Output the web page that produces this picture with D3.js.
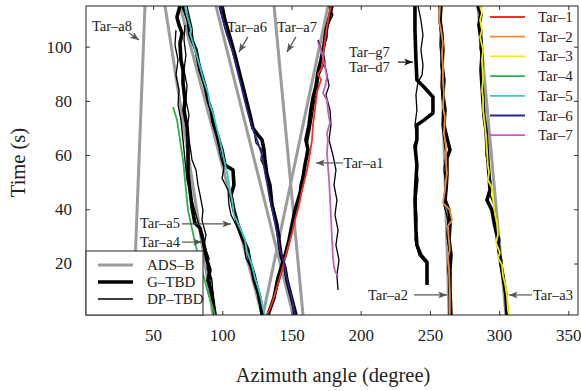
<!DOCTYPE html>
<html>
<head>
<meta charset="utf-8">
<script src="https://cdn.jsdelivr.net/npm/d3@7"></script>
<style>
body { margin: 0; background: #fff; }
svg { font-family: "Liberation Serif", "DejaVu Serif", serif; }
</style>
</head>
<body>
<script>
// azimuth (degree), time (s)
const xTicks = [50, 100, 150, 200, 250, 300, 350];
const yTicks = [20, 40, 60, 80, 100];

// ADS-B reference tracks (straight)
const adsA8 = [[35.5, 1], [44.1, 115]];
const adsA4 = [[58.6, 115], [93.3, 1]];
const adsA5 = [[69.4, 115], [128.7, 1]];
const adsA6 = [[95.4, 115], [151.1, 1]];
const adsA7 = [[137.4, 115], [158.3, 1]];
const adsA1 = [[129.4, 1], [176.4, 115]];
const adsA2 = [[257.3, 115], [263.8, 1]];
const adsA3 = [[284.7, 115], [304.9, 1]];

// G-TBD tracks
const gtbdA4 = [[69.4,115.0],[67.2,110.9],[68.7,108.0],[70.9,105.0],[69.4,101.3],[70.1,95.1],[71.6,91.4],[71.6,86.6],[73.0,80.3],[72.3,76.6],[74.5,70.4],[75.2,65.6],[75.2,59.3],[75.2,53.4],[76.6,47.1],[78.1,40.8],[80.2,34.9],[83.9,33.1],[86.0,28.7],[88.9,21.3],[91.1,17.6],[89.6,13.9],[92.5,9.1],[94.7,1.0]];
const gtbdA5 = [[71.6,115.0],[75.2,109.8],[76.6,104.3],[81.0,98.8],[83.1,93.2],[87.5,85.6],[89.6,80.3],[92.5,75.9],[94.0,71.1],[97.6,65.6],[99.8,61.9],[101.9,56.3],[107.7,54.5],[108.4,49.0],[106.3,45.3],[108.4,39.7],[111.3,34.2],[114.9,29.4],[118.5,25.0],[120.0,20.5],[122.9,15.8],[125.0,11.3],[127.2,7.3],[128.7,1.0]];
const gtbdA6 = [[99.8,115.0],[101.9,109.8],[105.5,103.6],[109.1,96.9],[112.8,89.5],[116.4,82.2],[120.0,74.8],[122.1,70.0],[125.8,67.4],[128.7,65.6],[130.1,61.9],[130.8,58.2],[132.3,52.6],[134.4,49.0],[135.9,41.6],[139.5,34.2],[140.9,28.7],[142.4,23.1],[145.3,18.3],[146.7,13.9],[148.9,9.5],[151.0,5.4],[153.2,1.0]];
const gtbdA1 = [[179.2,115.0],[177.8,111.7],[174.9,106.1],[173.4,100.6],[171.3,95.1],[169.1,90.6],[167.7,85.6],[165.5,81.1],[164.0,76.6],[162.6,71.1],[160.4,65.6],[161.9,61.9],[159.7,56.3],[158.3,51.5],[156.8,47.1],[154.7,43.4],[152.5,39.7],[150.3,34.2],[148.2,28.7],[146.0,24.2],[143.1,19.4],[140.2,14.6],[137.3,7.3],[133.0,1.0]];
const gtbdA2 = [[258.0,115.0],[257.3,109.8],[258.7,104.3],[259.4,98.8],[258.7,93.2],[260.1,87.7],[259.4,82.2],[260.9,76.6],[260.1,71.1],[262.3,66.3],[264.5,61.9],[262.3,58.9],[262.3,52.6],[261.6,47.1],[260.9,43.4],[263.8,39.7],[264.5,34.2],[263.8,28.7],[265.2,23.1],[264.5,17.6],[264.5,10.2],[265.2,1.0]];
const gtbdA3 = [[284.7,115.0],[286.9,111.7],[285.4,108.0],[286.9,102.5],[287.6,96.9],[286.9,91.4],[287.6,85.6],[288.3,80.3],[289.0,74.8],[290.5,69.2],[291.2,63.7],[291.9,58.2],[292.7,52.6],[293.4,47.1],[291.2,43.4],[294.8,39.7],[296.3,35.3],[298.4,30.5],[299.9,25.0],[300.6,22.0],[302.0,17.6],[303.5,13.2],[304.9,8.4],[305.7,1.0]];
const gtbdG7 = [[239.2,115.0],[239.2,106.1],[239.9,95.1],[240.6,87.7],[245.7,85.1],[252.2,81.4],[252.2,75.5],[245.7,72.9],[240.6,71.1],[240.6,65.6],[239.2,63.3],[240.6,56.3],[239.9,50.8],[239.2,43.4],[239.9,32.3],[240.6,26.8],[243.5,23.1],[247.9,20.5],[247.9,12.1]];

// DP-TBD tracks
const dpA4a = [[66.5,106.1],[65.8,100.6],[68.0,95.1],[66.5,89.5],[68.7,84.0],[68.0,78.5],[70.1,72.9],[71.6,65.6],[73.0,58.2],[74.5,50.8],[78.1,43.4],[81.0,37.9],[83.1,34.2],[86.0,30.5],[87.5,25.0],[89.6,19.4],[92.5,13.9],[93.3,8.4],[94.7,1.0]];
const dpA4b = [[73.0,108.0],[72.3,102.5],[73.7,96.9],[72.3,91.4],[74.5,85.6],[73.7,80.3],[75.9,74.8],[74.5,69.2],[76.6,63.7],[78.1,58.2],[81.0,54.5],[82.4,49.0],[83.9,45.3],[86.0,39.7],[85.3,36.0],[88.2,30.5],[86.8,26.8],[90.4,22.0],[88.9,18.3],[91.8,13.9],[91.1,9.5],[94.0,4.7],[95.4,1.0]];
const dpA5 = [[74.5,115.0],[75.9,111.7],[78.1,106.9],[78.8,102.5],[81.7,96.9],[83.1,91.4],[86.8,85.6],[88.9,81.1],[91.1,76.6],[92.5,72.2],[95.4,67.4],[97.6,62.6],[99.0,58.9],[101.2,55.2],[99.8,51.5],[104.1,47.1],[104.8,41.6],[106.3,37.9],[109.9,34.2],[112.8,30.5],[115.7,26.8],[117.1,22.0],[120.7,18.3],[122.1,13.9],[125.0,9.5],[126.5,5.4],[128.7,1.0]];
const dpA6 = [[97.6,115.0],[99.8,110.6],[102.6,105.4],[107.0,98.8],[109.9,93.2],[113.5,86.9],[117.1,80.3],[119.3,74.8],[122.9,69.2],[124.3,64.5],[128.7,61.9],[127.9,58.2],[131.5,54.5],[133.0,49.0],[134.4,45.3],[137.3,39.7],[138.8,34.2],[141.7,30.5],[140.9,25.7],[143.8,22.0],[145.3,17.6],[147.4,13.2],[149.6,8.4],[151.8,1.0]];
const dpA1 = [[177.1,115.0],[179.9,111.7],[176.3,108.0],[175.6,103.2],[172.7,98.8],[174.2,94.3],[169.8,89.5],[168.4,84.0],[166.2,78.5],[164.8,73.7],[163.3,69.2],[161.2,63.7],[160.4,58.9],[159.0,54.5],[156.1,49.0],[155.4,44.2],[153.2,39.0],[151.8,35.3],[148.9,29.4],[146.7,25.0],[144.6,20.5],[141.7,14.6],[138.8,9.5],[135.2,4.7],[132.3,1.0]];
const dpT7 = [[169.1,102.5],[172.7,96.9],[174.9,91.4],[177.1,85.6],[174.9,82.2],[177.8,76.6],[178.5,71.1],[177.1,65.6],[179.9,60.0],[182.1,54.5],[180.7,49.0],[182.8,43.4],[181.4,37.9],[183.6,32.3],[182.1,26.8],[184.3,21.3],[182.8,15.8],[183.6,10.2]];
const dpA2 = [[256.5,115.0],[258.0,108.0],[257.3,100.6],[258.7,93.2],[258.0,85.6],[259.4,78.5],[258.7,71.1],[260.1,65.6],[261.6,60.0],[260.1,54.5],[261.6,49.0],[260.1,41.6],[263.0,36.0],[262.3,30.5],[263.8,25.0],[263.0,17.6],[264.5,10.2],[263.8,1.0]];
const dpA3 = [[286.9,115.0],[285.4,110.6],[287.6,105.4],[286.2,99.5],[288.3,93.2],[286.9,87.7],[289.0,82.2],[288.3,76.6],[289.8,71.1],[291.2,65.6],[290.5,60.0],[292.7,54.5],[294.1,50.1],[293.4,45.3],[296.3,41.6],[297.7,36.8],[298.4,33.1],[300.6,28.7],[299.2,25.0],[302.0,21.3],[301.3,17.6],[304.2,12.1],[304.9,6.5],[306.4,1.0]];
const dpG7 = [[241.4,115.0],[243.5,109.8],[245.0,104.3],[243.5,98.8],[245.0,93.2],[244.3,89.5],[241.4,86.9],[239.9,82.2],[240.6,76.6],[239.2,71.1],[240.6,65.6],[239.9,58.2],[241.4,50.8],[239.9,43.4],[240.6,36.0],[239.2,28.7],[242.1,23.1],[246.4,20.5]];

// fused target tracks Tar-1 .. Tar-7
const tar1 = [[132.3,1.0],[135.9,5.4],[139.5,11.3],[143.8,18.7],[147.5,26.1],[150.3,31.2],[152.5,36.0],[155.4,41.6],[157.6,47.1],[160.4,52.7],[162.6,58.2],[164.8,65.6],[165.5,71.1],[166.9,76.6],[168.4,83.3],[171.3,87.7],[169.1,89.9],[172.0,92.1],[172.7,96.2],[174.2,102.5],[175.6,107.3],[177.8,113.5],[178.5,115.0]];
const tar2 = [[257.3,115.0],[256.6,109.8],[258.0,106.1],[259.4,101.3],[258.7,97.6],[259.4,92.5],[259.4,87.7],[260.1,82.9],[259.4,77.7],[260.8,74.0],[260.1,68.1],[261.6,63.0],[261.6,57.1],[262.3,53.4],[260.8,47.1],[259.4,42.3],[262.3,40.9],[264.4,39.7],[265.9,36.0],[263.0,33.8],[263.7,28.7],[264.4,25.0],[263.0,22.4],[263.7,18.7],[264.4,9.1],[264.4,1.0]];
const tar3 = [[286.2,115.0],[287.6,112.4],[286.2,109.8],[287.6,106.1],[286.2,103.6],[288.4,98.8],[287.6,95.1],[288.4,87.8],[287.6,84.1],[288.4,81.1],[288.4,76.7],[289.8,70.8],[290.5,67.1],[291.2,62.0],[291.9,56.1],[292.7,53.6],[291.9,50.9],[294.8,47.9],[295.6,43.5],[297.0,38.7],[298.4,35.0],[299.2,30.6],[297.7,27.6],[300.6,24.0],[299.2,22.1],[302.1,19.5],[302.8,15.5],[304.2,12.9],[305.7,8.1],[306.4,2.9],[307.1,1.0]];
const tar4 = [[64.4,77.7],[67.3,72.9],[69.4,65.6],[71.6,58.2],[75.2,39.7],[80.3,27.6],[85.3,17.6],[89.7,9.1],[94.7,1.0]];
const tar5 = [[73.0,115.0],[73.8,112.8],[75.9,109.1],[77.4,106.1],[76.6,105.0],[80.3,98.8],[82.4,95.1],[83.9,92.5],[86.0,88.4],[89.7,82.9],[91.1,78.5],[93.3,75.5],[95.4,71.1],[96.9,68.1],[99.0,63.7],[100.5,60.0],[102.6,55.2],[104.1,51.9],[105.5,47.1],[107.0,43.4],[108.4,37.9],[112.8,33.1],[116.4,28.7],[117.8,24.3],[121.4,19.4],[123.6,14.6],[125.8,11.3],[127.9,7.2],[129.4,3.5],[130.8,1.0]];
const tar6 = [[98.3,115.0],[100.5,109.8],[104.1,103.5],[107.7,97.7],[111.3,90.3],[114.9,82.9],[118.5,75.5],[121.4,70.4],[125.0,65.6],[128.7,60.0],[130.1,55.6],[132.3,49.7],[134.5,43.4],[136.6,38.6],[139.5,31.2],[141.7,25.0],[144.6,20.5],[146.0,15.7],[148.2,10.9],[150.4,6.5],[152.5,1.0]];
const tar7 = [[169.1,101.7],[172.0,97.6],[174.2,92.5],[175.6,88.8],[174.2,85.1],[172.7,82.9],[175.6,80.3],[176.3,76.6],[177.8,71.8],[175.6,68.1],[176.3,65.6],[175.6,60.7],[176.3,56.3],[177.1,50.8],[177.8,44.5],[178.5,37.1],[179.2,29.8],[179.9,22.4],[180.7,18.7],[182.1,16.5],[183.6,15.4]];

const tarNames = ["Tar–1", "Tar–2", "Tar–3", "Tar–4", "Tar–5", "Tar–6", "Tar–7"];
const tarColors = ["#f0321e", "#f08a32", "#f2ec00", "#28b44a", "#3cc8c4", "#26268c", "#c460bc"];
const methodNames = ["ADS–B", "G–TBD", "DP–TBD"];

// annotations: label, text position, arrow start, arrow end (data units)
const notes = [
  {text: ["Tar–a8"], at: [5.8, 105.8], from: [32.6, 105.0], to: [39.8, 102.5]},
  {text: ["Tar–a6"], at: [103.4, 105.4], from: [118.5, 103.6], to: [112.0, 98.0]},
  {text: ["Tar–a7"], at: [139.5, 105.4], from: [153.2, 103.6], to: [146.7, 98.0]},
  {text: ["Tar–g7", "Tar–d7"], at: [191.5, 96.2], from: [226.9, 94.3], to: [237.7, 94.3], dark: true},
  {text: ["Tar–a1"], at: [187.6, 55.4], from: [187.2, 57.1], to: [167.7, 57.1]},
  {text: ["Tar–a5"], at: [40.5, 33.1], from: [70.9, 34.6], to: [106.3, 34.6]},
  {text: ["Tar–a4"], at: [40.5, 26.1], from: [70.9, 27.9], to: [85.3, 27.9]},
  {text: ["Tar–a2"], at: [205.2, 6.6], from: [238.5, 8.4], to: [262.3, 8.4]},
  {text: ["Tar–a3"], at: [324.5, 6.6], from: [323.7, 8.4], to: [307.1, 8.4]}
];

const width = 581, height = 391;
const plotL = 86, plotR = 578, plotT = 6, plotB = 315;

const x = d3.scaleLinear().domain([1.5, 357]).range([plotL, plotR]);
const y = d3.scaleLinear().domain([1, 115]).range([plotB, plotT]);

const svg = d3.select("body").append("svg")
    .attr("width", width)
    .attr("height", height);

const defs = svg.append("defs");
defs.append("clipPath").attr("id", "plot")
  .append("rect")
    .attr("x", plotL).attr("y", plotT)
    .attr("width", plotR - plotL).attr("height", plotB - plotT);

["#555", "#111"].forEach((c, i) => {
  defs.append("marker")
      .attr("id", "head" + i)
      .attr("viewBox", "0 0 10 8")
      .attr("refX", 10).attr("refY", 4)
      .attr("markerWidth", 9).attr("markerHeight", 7)
      .attr("markerUnits", "userSpaceOnUse")
      .attr("orient", "auto")
    .append("path")
      .attr("d", "M0,0 L10,4 L0,8 L2.5,4 z")
      .attr("fill", c);
});

const line = d3.line().x(d => x(d[0])).y(d => y(d[1]));
const plot = svg.append("g").attr("clip-path", "url(#plot)");

const adsTracks = [adsA8, adsA4, adsA5, adsA6, adsA7, adsA1, adsA2, adsA3];
const gTracks = [gtbdA4, gtbdA5, gtbdA6, gtbdA1, gtbdA2, gtbdA3, gtbdG7];
const dpTracks = [dpA4a, dpA4b, dpA5, dpA6, dpA1, dpT7, dpA2, dpA3, dpG7];
const tarTracks = [tar1, tar2, tar3, tar4, tar5, tar6, tar7];

plot.selectAll(".ads").data(adsTracks).enter().append("path")
    .attr("class", "ads")
    .attr("d", line)
    .attr("fill", "none")
    .attr("stroke", "#9c9c9c")
    .attr("stroke-width", 3);

plot.selectAll(".gtbd").data(gTracks).enter().append("path")
    .attr("class", "gtbd")
    .attr("d", line)
    .attr("fill", "none")
    .attr("stroke", "#000")
    .attr("stroke-width", 3.6)
    .attr("stroke-linejoin", "round");

plot.selectAll(".dptbd").data(dpTracks).enter().append("path")
    .attr("class", "dptbd")
    .attr("d", line)
    .attr("fill", "none")
    .attr("stroke", "#000")
    .attr("stroke-width", 1.3)
    .attr("stroke-linejoin", "round");

plot.selectAll(".tar").data(tarTracks).enter().append("path")
    .attr("class", "tar")
    .attr("d", line)
    .attr("fill", "none")
    .attr("stroke", (d, i) => tarColors[i])
    .attr("stroke-width", 1.8)
    .attr("stroke-linejoin", "round");

// annotations
const ann = svg.append("g");
notes.forEach(n => {
  ann.append("line")
      .attr("x1", x(n.from[0])).attr("y1", y(n.from[1]))
      .attr("x2", x(n.to[0])).attr("y2", y(n.to[1]))
      .attr("stroke", n.dark ? "#111" : "#555")
      .attr("stroke-width", 1.2)
      .attr("marker-end", `url(#head${n.dark ? 1 : 0})`);
  n.text.forEach((t, i) => {
    ann.append("text")
        .attr("x", x(n.at[0]))
        .attr("y", y(n.at[1]) + i * 15)
        .attr("font-size", 14.5)
        .attr("fill", "#222")
        .text(t);
  });
});

// axes with inward ticks on all four sides
const gx = svg.append("g").attr("transform", `translate(0,${plotB})`)
    .call(d3.axisBottom(x).tickValues(xTicks).tickSize(-4).tickPadding(14));
const gy = svg.append("g").attr("transform", `translate(${plotL},0)`)
    .call(d3.axisLeft(y).tickValues(yTicks).tickSize(-4).tickPadding(14));
const gt = svg.append("g").attr("transform", `translate(0,${plotT})`)
    .call(d3.axisTop(x).tickValues(xTicks).tickSize(-4).tickFormat(""));
const gr = svg.append("g").attr("transform", `translate(${plotR},0)`)
    .call(d3.axisRight(y).tickValues(yTicks).tickSize(-4).tickFormat(""));

[gx, gy, gt, gr].forEach(g => {
  g.select(".domain").remove();
  g.selectAll("text")
      .attr("font-family", "Liberation Serif, serif")
      .attr("font-size", 17)
      .attr("fill", "#222");
  g.selectAll(".tick line").attr("stroke", "#333");
});

svg.append("rect")
    .attr("x", plotL).attr("y", plotT)
    .attr("width", plotR - plotL).attr("height", plotB - plotT)
    .attr("fill", "none")
    .attr("stroke", "#222")
    .attr("stroke-width", 1);

// target legend (top right)
const tl = svg.append("g");
tarNames.forEach((name, i) => {
  const ly = 17 + i * 19.7;
  tl.append("line")
      .attr("x1", 490).attr("x2", 525)
      .attr("y1", ly).attr("y2", ly)
      .attr("stroke", tarColors[i])
      .attr("stroke-width", 1.8);
  tl.append("text")
      .attr("x", 538).attr("y", ly + 5)
      .attr("font-size", 15)
      .attr("fill", "#222")
      .text(name);
});

// method legend (bottom left)
const ml = svg.append("g");
ml.append("rect")
    .attr("x", plotL).attr("y", 251)
    .attr("width", 117).attr("height", plotB - 251)
    .attr("fill", "#fff")
    .attr("stroke", "#222");
const mStyle = [["#9c9c9c", 3], ["#000", 3.6], ["#000", 1.3]];
methodNames.forEach((name, i) => {
  const ly = [265, 282, 299][i];
  ml.append("line")
      .attr("x1", 98).attr("x2", 133)
      .attr("y1", ly).attr("y2", ly)
      .attr("stroke", mStyle[i][0])
      .attr("stroke-width", mStyle[i][1]);
  ml.append("text")
      .attr("x", 147).attr("y", ly + 5)
      .attr("font-size", 15)
      .attr("fill", "#222")
      .text(name);
});

// axis titles
svg.append("text")
    .attr("x", (plotL + plotR) / 2 + 1)
    .attr("y", 382)
    .attr("text-anchor", "middle")
    .attr("font-size", 20.5)
    .attr("fill", "#222")
    .text("Azimuth angle (degree)");

svg.append("text")
    .attr("transform", `translate(25,${(plotT + plotB) / 2 + 2}) rotate(-90)`)
    .attr("text-anchor", "middle")
    .attr("font-size", 20.5)
    .attr("fill", "#222")
    .text("Time (s)");
</script>
</body>
</html>
